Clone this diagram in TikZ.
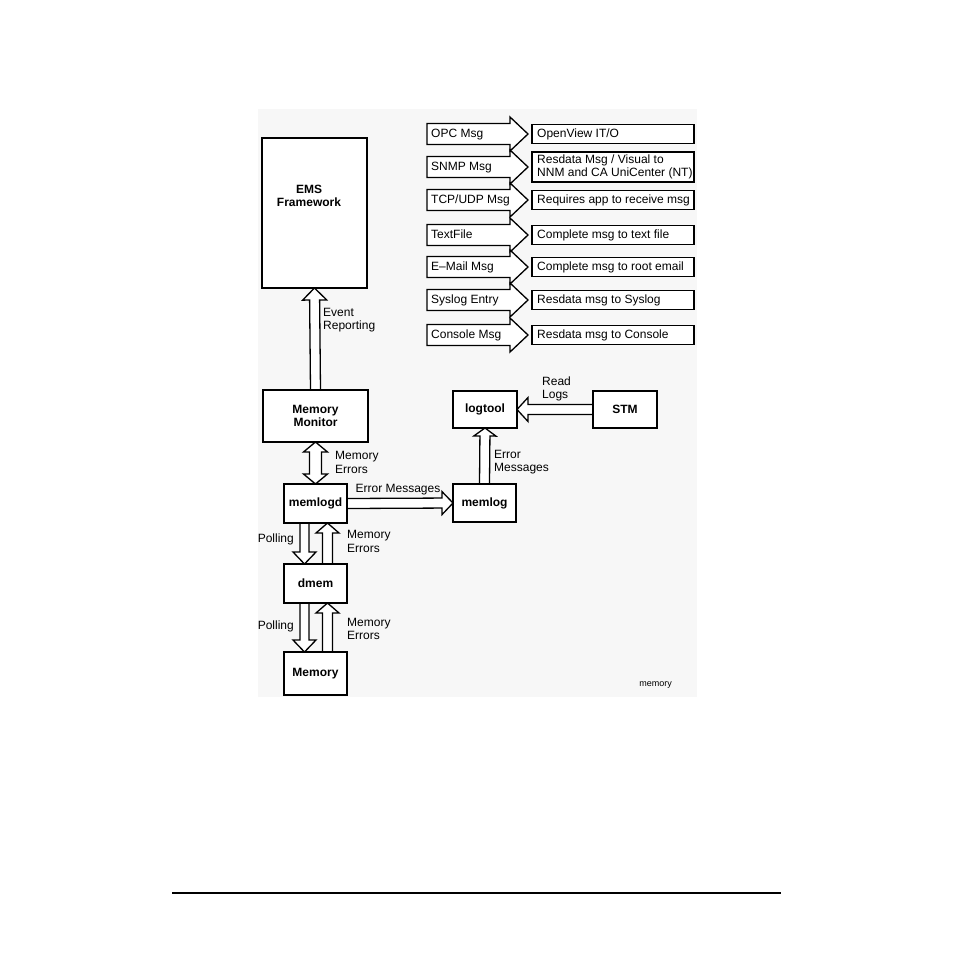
\documentclass[tikz,border=0pt]{standalone}
\usepackage{fontspec}
\setmainfont{Liberation Sans}
\usetikzlibrary{calc}
\pgfdeclarelayer{bg}
\pgfdeclarelayer{arr}
\pgfsetlayers{bg,arr,main}
\tikzset{
 box/.style={draw=black, fill=white, line width=2.2pt, outer sep=0pt, inner sep=0pt, align=center,
   font=\fontsize{12}{13.5}\selectfont\bfseries},
 hol/.style={draw=black, fill=white, line width=1.3pt, line join=miter},
 txt/.style={inner sep=0pt, align=left, font=\fontsize{12}{13.5}\selectfont},
 rbox/.style={draw=black, fill=white, line width=1.4pt, outer sep=0pt, anchor=west, minimum width=162pt, inner sep=0pt},
 rtxt/.style={anchor=west, inner sep=0pt, align=left, font=\fontsize{12}{13.5}\selectfont},
 lbl/.style={anchor=west, inner sep=0pt, text height=9pt, text depth=2.5pt, font=\fontsize{12}{13}\selectfont},
}
% hollow single arrow: tail, apex, shaft half width, head half width, head length
\newcommand\harr[5]{%
\begin{pgfonlayer}{arr}
\draw[hol] let \p1=#1, \p2=#2, \n1={veclen(\x2-\x1,\y2-\y1)}, \n2={(\x2-\x1)/\n1}, \n3={(\y2-\y1)/\n1} in
 ({\x1-(\n3)*#3},{\y1+(\n2)*#3}) -- ({\x2-(\n2)*#5-(\n3)*#3},{\y2-(\n3)*#5+(\n2)*#3})
 -- ({\x2-(\n2)*#5-(\n3)*#4},{\y2-(\n3)*#5+(\n2)*#4}) -- (\p2)
 -- ({\x2-(\n2)*#5+(\n3)*#4},{\y2-(\n3)*#5-(\n2)*#4}) -- ({\x2-(\n2)*#5+(\n3)*#3},{\y2-(\n3)*#5-(\n2)*#3})
 -- ({\x1+(\n3)*#3},{\y1-(\n2)*#3}) -- cycle;
\end{pgfonlayer}}
% hollow double arrow
\newcommand\dharr[5]{%
\begin{pgfonlayer}{arr}
\draw[hol] let \p1=#1, \p2=#2, \n1={veclen(\x2-\x1,\y2-\y1)}, \n2={(\x2-\x1)/\n1}, \n3={(\y2-\y1)/\n1} in
 (\p1) -- ({\x1+(\n2)*#5-(\n3)*#4},{\y1+(\n3)*#5+(\n2)*#4}) -- ({\x1+(\n2)*#5-(\n3)*#3},{\y1+(\n3)*#5+(\n2)*#3})
 -- ({\x2-(\n2)*#5-(\n3)*#3},{\y2-(\n3)*#5+(\n2)*#3}) -- ({\x2-(\n2)*#5-(\n3)*#4},{\y2-(\n3)*#5+(\n2)*#4})
 -- (\p2) -- ({\x2-(\n2)*#5+(\n3)*#4},{\y2-(\n3)*#5-(\n2)*#4}) -- ({\x2-(\n2)*#5+(\n3)*#3},{\y2-(\n3)*#5-(\n2)*#3})
 -- ({\x1+(\n2)*#5+(\n3)*#3},{\y1+(\n3)*#5-(\n2)*#3}) -- ({\x1+(\n2)*#5+(\n3)*#4},{\y1+(\n3)*#5-(\n2)*#4}) -- cycle;
\end{pgfonlayer}}
% message row: name, y, left text, right text, right box height
\newcommand\msgrow[5]{%
 \coordinate (c#1) at (427,#2);
 \node[lbl] (l#1) at (431,#2) {#3};
 \node[rbox, minimum height=#5] (r#1) at (532,#2) {};
 \node[rtxt] (rt#1) at ($(r#1.west)+(5,0)$) {#4};
 \begin{pgfonlayer}{arr}
 \draw[hol] ($(c#1)+(83,-10.5)$) -- ($(c#1)+(0,-10.5)$) -- ($(c#1)+(0,10.5)$) -- ($(c#1)+(83,10.5)$)
   -- ($(c#1)+(83,17)$) -- ($(r#1.west)+(-4,0)$) -- ($(c#1)+(83,-17)$) -- cycle;
 \end{pgfonlayer}}
\begin{document}
\begin{tikzpicture}[x=1pt,y=-1pt]
\useasboundingbox (0,0) rectangle (954,954);
\begin{pgfonlayer}{bg}
\fill[black!3] (258,109) rectangle (697,697);
\end{pgfonlayer}

% boxes
\node[box, minimum width=105pt, minimum height=150pt] (ems) at (314.5,213) {};
\node[inner sep=0pt, align=center, font=\fontsize{12}{13}\selectfont\bfseries] (emsl) at (309,196) {EMS\\Framework};
\node[box, minimum width=105pt, minimum height=52pt] (mm) at (315.5,416) {Memory\\Monitor};
\node[box, minimum width=63pt, minimum height=39pt] (memlogd) at (315.5,503.5) {memlogd};
\node[box, minimum width=63pt, minimum height=39pt] (dmem) at (315.5,583.5) {dmem};
\node[box, minimum width=63pt, minimum height=43pt] (memory) at (315.5,673.5) {Memory};
\node[box, minimum width=63pt, minimum height=38pt] (memlog) at (484.5,503) {memlog};
\node[box, minimum width=64pt, minimum height=37pt] (logtool) at (485,409.5) {logtool};
\node[box, minimum width=64pt, minimum height=37pt] (stm) at (625,409.5) {STM};

% connectors
\harr{(mm.north)}{(ems.south)}{5pt}{12pt}{12pt}
\dharr{(mm.south)}{(memlogd.north)}{6pt}{12pt}{10pt}
\harr{(memlogd.east)}{(memlog.west)}{5pt}{11.5pt}{11pt}
\harr{(memlog.north)}{(logtool.south)}{5pt}{11pt}{8pt}
\harr{(stm.west)}{(logtool.east)}{5pt}{12pt}{11pt}
\harr{($(memlogd.south)+(-11,0)$)}{($(dmem.north)+(-11,0)$)}{4.5pt}{11.5pt}{12pt}
\harr{($(dmem.north)+(12,0)$)}{($(memlogd.south)+(12,0)$)}{5pt}{11.5pt}{10pt}
\harr{($(dmem.south)+(-11,0)$)}{($(memory.north)+(-11,0)$)}{4.5pt}{11.5pt}{12pt}
\harr{($(memory.north)+(12,0)$)}{($(dmem.south)+(12,0)$)}{5pt}{11.5pt}{10pt}

% labels
\node[txt, anchor=west] (t1) at (323,320) {Event\\Reporting};
\node[txt, anchor=west] (t2) at (335,462.5) {Memory\\Errors};
\node[txt] (t3) at (398,490) {Error Messages};
\node[txt, anchor=west] (t4) at (542,389) {Read\\Logs};
\node[txt, anchor=west] (t5) at (494,462) {Error\\Messages};
\node[txt, anchor=east] (t6) at (294,539) {Polling};
\node[txt, anchor=west] (t7) at (347,541.5) {Memory\\Errors};
\node[txt, anchor=east] (t8) at (294,626) {Polling};
\node[txt, anchor=west] (t9) at (347,629) {Memory\\Errors};
\node[inner sep=0pt, font=\fontsize{9}{10}\selectfont] (t10) at (655.5,685) {memory};

% message list
\msgrow{a}{134}{OPC Msg}{OpenView IT/O}{19pt}
\msgrow{b}{167}{SNMP Msg}{Resdata Msg / Visual to\\NNM and CA UniCenter (NT)}{30pt}
\msgrow{c}{200}{TCP/UDP Msg}{Requires app to receive msg}{19pt}
\msgrow{d}{235}{TextFile}{Complete msg to text file}{19pt}
\msgrow{e}{267}{E–Mail Msg}{Complete msg to root email}{19pt}
\msgrow{f}{300}{Syslog Entry}{Resdata msg to Syslog}{19pt}
\msgrow{g}{335}{Console Msg}{Resdata msg to Console}{19pt}

% bottom rule
\coordinate (rl) at (172,893);
\coordinate (rr) at (781,893);
\draw[line width=1.2pt] (rl) -- (rr);
\end{tikzpicture}
\end{document}
